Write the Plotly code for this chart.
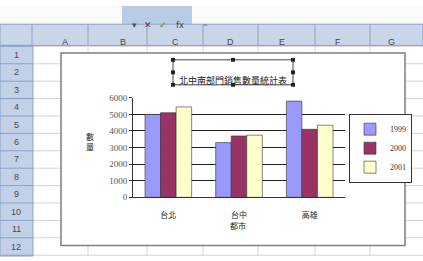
import plotly.graph_objects as go

categories = ["台北", "台中", "高雄"]
years = ["1999", "2000", "2001"]
sales_1999 = [5000, 3300, 5800]
sales_2000 = [5100, 3700, 4100]
sales_2001 = [5450, 3750, 4350]
series = [sales_1999, sales_2000, sales_2001]
colors = ["#9999FF", "#993366", "#FFFFCC"]
y_ticks = [0, 1000, 2000, 3000, 4000, 5000, 6000]
col_letters = ["A", "B", "C", "D", "E", "F", "G"]
row_numbers = [str(i) for i in range(1, 13)]

W, H = 423, 261

def px(x):
    return x / W

def py(y):
    return 1 - y / H

fig = go.Figure()
for name, vals, c in zip(years, series, colors):
    fig.add_trace(go.Bar(x=categories, y=vals, name=name,
                         marker=dict(color=c, line=dict(color="#333333", width=0.6))))

shapes = []
annotations = []

# spreadsheet background grid
col_edges = [32, 88, 147, 203, 258, 315, 370, 423]
row_top = 43
row_h = 18.1
shapes.append(dict(type="rect", xref="paper", yref="paper", x0=0, x1=1, y0=0, y1=1,
                   fillcolor="white", line=dict(width=0), layer="below"))
for xe in col_edges[:-1]:
    shapes.append(dict(type="line", xref="paper", yref="paper", x0=px(xe), x1=px(xe),
                       y0=0, y1=py(row_top), line=dict(color="#D4D4D4", width=1), layer="below"))
for k in range(13):
    yy = row_top + k * row_h
    shapes.append(dict(type="line", xref="paper", yref="paper", x0=px(0), x1=1,
                       y0=py(yy), y1=py(yy), line=dict(color="#D4D4D4", width=1), layer="below"))
# formula bar
shapes.append(dict(type="rect", xref="paper", yref="paper", x0=0, x1=1, y0=py(20), y1=1,
                   fillcolor="#FAFAFA", line=dict(width=0), layer="below"))
shapes.append(dict(type="rect", xref="paper", yref="paper", x0=px(122), x1=px(192), y0=py(20), y1=py(1),
                   fillcolor="#B8CCE4", line=dict(width=0), layer="below"))
# column header row
shapes.append(dict(type="rect", xref="paper", yref="paper", x0=0, x1=1, y0=py(42), y1=py(20),
                   fillcolor="#C9D5E8", line=dict(color="#8DA2C4", width=1), layer="below"))
# row header column
shapes.append(dict(type="rect", xref="paper", yref="paper", x0=0, x1=px(33), y0=0, y1=py(42),
                   fillcolor="#C3D1E8", line=dict(color="#8DA2C4", width=1), layer="below"))
for xe in col_edges[:-1]:
    shapes.append(dict(type="line", xref="paper", yref="paper", x0=px(xe), x1=px(xe),
                       y0=py(42), y1=py(20), line=dict(color="#8DA2C4", width=1), layer="below"))
for k in range(13):
    yy = row_top + k * row_h
    shapes.append(dict(type="line", xref="paper", yref="paper", x0=0, x1=px(33),
                       y0=py(yy), y1=py(yy), line=dict(color="#8DA2C4", width=1), layer="below"))
for i, letter in enumerate(col_letters):
    xc = (col_edges[i] + col_edges[i + 1]) / 2
    annotations.append(dict(text=letter, x=px(xc), y=py(31), xref="paper", yref="paper",
                            showarrow=False, font=dict(size=9, color="#4A4A4A", family="Liberation Sans")))
for k, rn in enumerate(row_numbers):
    yc = row_top + (k + 0.5) * row_h
    annotations.append(dict(text=rn, x=px(16), y=py(yc), xref="paper", yref="paper",
                            xanchor="center", yanchor="middle",
                            showarrow=False, font=dict(size=9, color="#4A4A4A", family="Liberation Sans")))
# formula bar icons
for xi, sym, col in [(130, "▾", "#555555"), (148, "✕", "#8B1A3A"), (163, "✓", "#3A8A3A"), (180, "fx", "#333333")]:
    annotations.append(dict(text=sym, x=px(xi), y=py(11), xref="paper", yref="paper",
                            showarrow=False, font=dict(size=9, color=col)))
annotations.append(dict(text="=", x=px(205), y=py(11), xref="paper", yref="paper",
                        showarrow=False, font=dict(size=8, color="#777777")))

# chart area
shapes.append(dict(type="rect", xref="paper", yref="paper", x0=px(61), x1=px(405), y0=py(250), y1=py(50),
                   fillcolor="white", line=dict(color="#7F7F7F", width=1.5), layer="below"))

# title box with selection handles
tx0, tx1, ty0, ty1 = 173, 293, 57, 83
shapes.append(dict(type="rect", xref="paper", yref="paper", x0=px(tx0), x1=px(tx1), y0=py(ty1), y1=py(ty0),
                   fillcolor="white", line=dict(color="#444444", width=1)))
for hx in [tx0, (tx0 + tx1) / 2, tx1]:
    for hy in [ty0, (ty0 + ty1) / 2, ty1]:
        if hx == (tx0 + tx1) / 2 and hy == (ty0 + ty1) / 2:
            continue
        shapes.append(dict(type="rect", xref="paper", yref="paper", x0=px(hx - 2), x1=px(hx + 2),
                           y0=py(hy + 2), y1=py(hy - 2), fillcolor="#222222", line=dict(width=0)))
annotations.append(dict(text="北中南部門銷售數量統計表", x=px(233), y=py(70), xref="paper", yref="paper",
                        showarrow=False, font=dict(size=9, color="#222222", family="Noto Sans CJK TC")))

# axis titles
annotations.append(dict(text="數<br>量", x=px(84), y=py(142), xref="paper", yref="paper",
                        showarrow=False, font=dict(size=8, color="#222222", family="Noto Sans CJK TC")))
annotations.append(dict(text="都市", x=px(238), y=py(237), xref="paper", yref="paper",
                        showarrow=False, font=dict(size=8, color="#222222", family="Noto Sans CJK TC")))

fig.update_layout(
    width=W, height=H,
    margin=dict(l=0, r=0, t=0, b=0),
    paper_bgcolor="white",
    plot_bgcolor="#C0C0C0",
    barmode="group",
    bargap=0.34,
    bargroupgap=0,
    showlegend=True,
    legend=dict(x=px(349), y=py(113), xanchor="left", yanchor="top",
                bgcolor="white", bordercolor="#333333", borderwidth=1,
                font=dict(size=8, color="#333333", family="Liberation Serif"),
                itemwidth=30, tracegroupgap=4),
    xaxis=dict(domain=[px(133), px(345)], showgrid=False, showline=True, linecolor="#333333",
               tickfont=dict(size=8, color="#222222", family="Noto Sans CJK TC"),
               ticks="", ticklabelstandoff=10),
    yaxis=dict(domain=[py(200), py(96.5)], range=[0, 6000], tickvals=y_ticks,
               showgrid=True, gridcolor="#222222", gridwidth=1,
               showline=True, linecolor="#333333", ticks="outside", ticklen=3, tickcolor="#333333",
               tickfont=dict(size=9, color="#555555", family="Liberation Serif"), zeroline=False),
    shapes=shapes,
    annotations=annotations,
)

fig.write_html("out.html", config={"displayModeBar": False},
               post_script="document.body.style.margin='0';document.body.style.padding='0';")
